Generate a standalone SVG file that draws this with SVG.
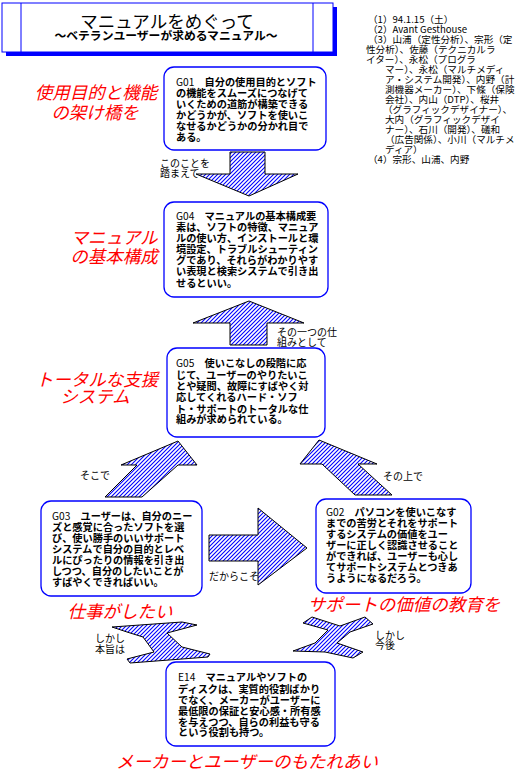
<svg xmlns="http://www.w3.org/2000/svg" width="516" height="774" viewBox="0 0 516 774">
<style>
.bg{fill:#fff}
.node{fill:#fff;stroke:#0000ff;stroke-width:1.3}
.nt{font-family:"Noto Sans CJK JP","Noto Sans",sans-serif;font-size:10.2px;font-weight:bold;fill:#000}
.id{font-weight:normal}
.red{font-family:"Noto Sans CJK JP",sans-serif;font-size:17.5px;font-style:italic;fill:#ff0000;text-anchor:middle}
.lab{font-family:"Noto Sans CJK JP",sans-serif;font-size:10px;fill:#000}
.note{font-family:"Noto Sans CJK JP",sans-serif;font-size:9.6px;fill:#000}
.arrow{fill:url(#hatch);stroke:#000;stroke-width:1}
</style>
<defs>
<pattern id="hatch" patternUnits="userSpaceOnUse" width="4" height="4">
<rect width="4" height="4" fill="#fff"/>
<path d="M-1,1 L1,-1 M0,4 L4,0 M3,5 L5,3" stroke="#0000ff" stroke-width="1.1"/>
</pattern>
</defs>
<rect class="bg" width="516" height="774"/>

<g id="title">
<rect x="6" y="7" width="331" height="49" fill="#0000ff"/>
<rect x="2" y="3" width="331" height="49" fill="#fff" stroke="#0000ff" stroke-width="1"/>
<line x1="21" y1="3" x2="21" y2="52" stroke="#0000ff"/>
<line x1="313" y1="3" x2="313" y2="52" stroke="#0000ff"/>
<text x="167" y="28" text-anchor="middle" font-family="'Noto Sans CJK JP',sans-serif" font-size="17.5" fill="#000">マニュアルをめぐって</text>
<text x="166" y="40" text-anchor="middle" font-family="'Noto Sans CJK JP',sans-serif" font-size="11.8" font-weight="bold" fill="#000">～ベテランユーザーが求めるマニュアル～</text>
</g>

<g id="notes" class="note">
<text x="368" y="23">（1）94.1.15（土）</text>
<text x="368" y="33">（2）Avant Gesthouse</text>
<text x="368" y="43">（3）山浦（定性分析）、宗形（定</text>
<text x="366" y="53">性分析）、佐藤（テクニカルラ</text>
<text x="366" y="63">イター）、永松（プログラ</text>
<text x="385" y="73">マー）、永松（マルチメディ</text>
<text x="385" y="83">ア・システム開発）、内野（計</text>
<text x="385" y="93">測機器メーカー）、下條（保険</text>
<text x="385" y="103">会社）、内山（DTP）、桜井</text>
<text x="383" y="113">（グラフィックデザイナー）、</text>
<text x="385" y="123">大内（グラフィックデザイ</text>
<text x="385" y="133">ナー）、石川（開発）、礒和</text>
<text x="385" y="143">（広告関係）、小川（マルチメ</text>
<text x="385" y="153">ディア）</text>
<text x="368" y="163">（4）宗形、山浦、内野</text>
</g>

<g id="connectors">
<polygon class="arrow" points="230,152 265,152 265,174 298,174 249,196 196,174 230,174"/>
<polygon class="arrow" points="249,301 304,323 267,323 267,345 230,345 230,323 193,323"/>
<polygon class="arrow" points="178,441 197,465 178,465 142,497 105,497 137,465 121,465"/>
<polygon class="arrow" points="319,440 377,464 358,464 392,495 355,495 322,464 300,464"/>
<polygon class="arrow" points="209,535 258,535 258,508 307,548 258,585 258,561 209,561"/>
<polygon class="arrow" points="112,627 182,622 197,625 167,633 182,647 210,654 208,657 130,663 127,659 154,652 143,637 127,632"/>
<polygon class="arrow" points="303,623 312,617 340,626 365,617 373,624 350,632 337,643 363,652 353,658 325,652 293,651 315,643 328,630"/>
<g class="lab">
<text x="160" y="167">このことを</text>
<text x="160" y="177">踏まえて</text>
<text x="277" y="336">その一つの仕</text>
<text x="277" y="346">組みとして</text>
<text x="80" y="479">そこで</text>
<text x="383" y="480">その上で</text>
<text x="209" y="580">だからこそ</text>
<text x="95" y="642">しかし</text>
<text x="95" y="653">本旨は</text>
<text x="375" y="639">しかし</text>
<text x="375" y="649">今後</text>
</g>
</g>

<g id="G01">
<rect class="node" x="164" y="67" width="162" height="83" rx="10"/>
<text class="nt" x="176" y="86"><tspan class="id">G01　</tspan>自分の使用目的とソフト</text>
<text class="nt" x="176" y="97">の機能をスムーズにつなげて</text>
<text class="nt" x="176" y="108">いくための道筋が構築できる</text>
<text class="nt" x="176" y="119">かどうかが、ソフトを使いこ</text>
<text class="nt" x="176" y="130">なせるかどうかの分かれ目で</text>
<text class="nt" x="176" y="141">ある。</text>
<text class="red" x="96" y="99">使用目的と機能</text>
<text class="red" x="95" y="119">の架け橋を</text>
</g>

<g id="G04">
<rect class="node" x="164" y="202" width="164" height="95" rx="10"/>
<text class="nt" x="176" y="220"><tspan class="id">G04　</tspan>マニュアルの基本構成要</text>
<text class="nt" x="176" y="231">素は、ソフトの特徴、マニュア</text>
<text class="nt" x="176" y="242">ルの使い方、インストールと環</text>
<text class="nt" x="176" y="253">境設定、トラブルシューティン</text>
<text class="nt" x="176" y="264">グであり、それらがわかりやす</text>
<text class="nt" x="176" y="275">い表現と検索システムで引き出</text>
<text class="nt" x="176" y="287">せるといい。</text>
<text class="red" x="114" y="244">マニュアル</text>
<text class="red" x="114" y="263">の基本構成</text>
</g>

<g id="G05">
<rect class="node" x="167" y="348" width="158" height="89" rx="10"/>
<text class="nt" x="176" y="367"><tspan class="id">G05　</tspan>使いこなしの段階に応</text>
<text class="nt" x="176" y="379">じて、ユーザーのやりたいこ</text>
<text class="nt" x="176" y="390">とや疑問、故障にすばやく対</text>
<text class="nt" x="176" y="401">応してくれるハード・ソフ</text>
<text class="nt" x="176" y="413">ト・サポートのトータルな仕</text>
<text class="nt" x="176" y="423">組みが求められている。</text>
<text class="red" x="97" y="386">トータルな支援</text>
<text class="red" x="95" y="403">システム</text>
</g>

<g id="G03">
<rect class="node" x="41" y="501" width="161" height="95" rx="10"/>
<text class="nt" x="52" y="520"><tspan class="id">G03　</tspan>ユーザーは、自分のニー</text>
<text class="nt" x="52" y="531">ズと感覚に合ったソフトを選</text>
<text class="nt" x="52" y="542">び、使い勝手のいいサポート</text>
<text class="nt" x="52" y="553">システムで自分の目的とレベ</text>
<text class="nt" x="52" y="564">ルにぴったりの情報を引き出</text>
<text class="nt" x="52" y="575">しつつ、自分のしたいことが</text>
<text class="nt" x="52" y="586">すばやくできればいい。</text>
<text class="red" x="120" y="618">仕事がしたい</text>
</g>

<g id="G02">
<rect class="node" x="316" y="499" width="155" height="94" rx="10"/>
<text class="nt" x="326" y="516"><tspan class="id">G02　</tspan>パソコンを使いこなす</text>
<text class="nt" x="326" y="527">までの苦労とそれをサポート</text>
<text class="nt" x="326" y="538">するシステムの価値をユー</text>
<text class="nt" x="326" y="549">ザーに正しく認識させること</text>
<text class="nt" x="326" y="560">ができれば、ユーザーも心し</text>
<text class="nt" x="326" y="571">てサポートシステムとつきあ</text>
<text class="nt" x="326" y="582">うようになるだろう。</text>
<text class="red" x="404" y="611">サポートの価値の教育を</text>
</g>

<g id="E14">
<rect class="node" x="166" y="662" width="169" height="84" rx="10"/>
<text class="nt" x="178" y="681"><tspan class="id">E14　</tspan>マニュアルやソフトの</text>
<text class="nt" x="178" y="693">ディスクは、実質的役割ばかり</text>
<text class="nt" x="178" y="704">でなく、メーカーがユーザーに</text>
<text class="nt" x="178" y="715">最低限の保証と安心感・所有感</text>
<text class="nt" x="178" y="726">を与えつつ、自らの利益も守る</text>
<text class="nt" x="178" y="736">という役割も持つ。</text>
<text class="red" x="247" y="768">メーカーとユーザーのもたれあい</text>
</g>
</svg>
